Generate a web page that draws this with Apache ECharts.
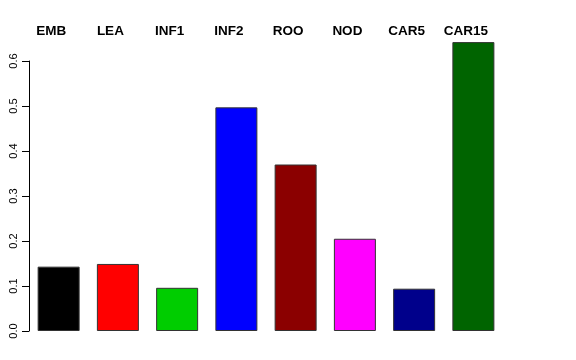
<!DOCTYPE html>
<html><head><meta charset="utf-8">
<script src="https://cdn.jsdelivr.net/npm/echarts@6/dist/echarts.min.js"></script>
<style>html,body{margin:0;padding:0;background:#fff}#c{width:576px;height:360px}</style>
</head><body><div id="c"></div>
<script>
const categories = ["EMB","LEA","INF1","INF2","ROO","NOD","CAR5","CAR15"];
const values = [0.143, 0.149, 0.096, 0.497, 0.370, 0.205, 0.094, 0.642];
const colors = ["#000000","#FF0000","#00CD00","#0000FF","#8B0000","#FF00FF","#00008B","#006400"];
const yTicks = [0, 0.1, 0.2, 0.3, 0.4, 0.5, 0.6];

const chart = echarts.init(document.getElementById('c'), null, {renderer:'canvas'});
chart.setOption({
  animation: false,
  backgroundColor: '#fff',
  grid: {left: 29, right: 73, top: 61, bottom: 29, containLabel: false},
  xAxis: {
    type: 'category', data: categories, position: 'top',
    axisLine: {show: false}, axisTick: {show: false},
    axisLabel: {margin: 23, fontFamily: 'Liberation Sans', fontWeight: 'bold', fontSize: 13.5, color: '#000',
      padding: [0, 15, 0, 0]}
  },
  yAxis: {
    type: 'value', min: yTicks[0], max: yTicks[yTicks.length-1], interval: 0.1,
    splitLine: {show: false},
    axisLine: {show: true, lineStyle: {color: '#000', width: 1}},
    axisTick: {show: true, length: 7, lineStyle: {color: '#000'}},
    axisLabel: {rotate: 90, margin: 10, fontFamily: 'Liberation Sans', fontSize: 11, color: '#000',
      formatter: v => v.toFixed(1)}
  },
  series: [{
    type: 'bar', clip: false, barWidth: 42,
    data: values.map((v,i) => ({value: v, itemStyle: {color: colors[i]}})),
    itemStyle: {borderColor: '#333', borderWidth: 1}
  }]
});
</script></body></html>
